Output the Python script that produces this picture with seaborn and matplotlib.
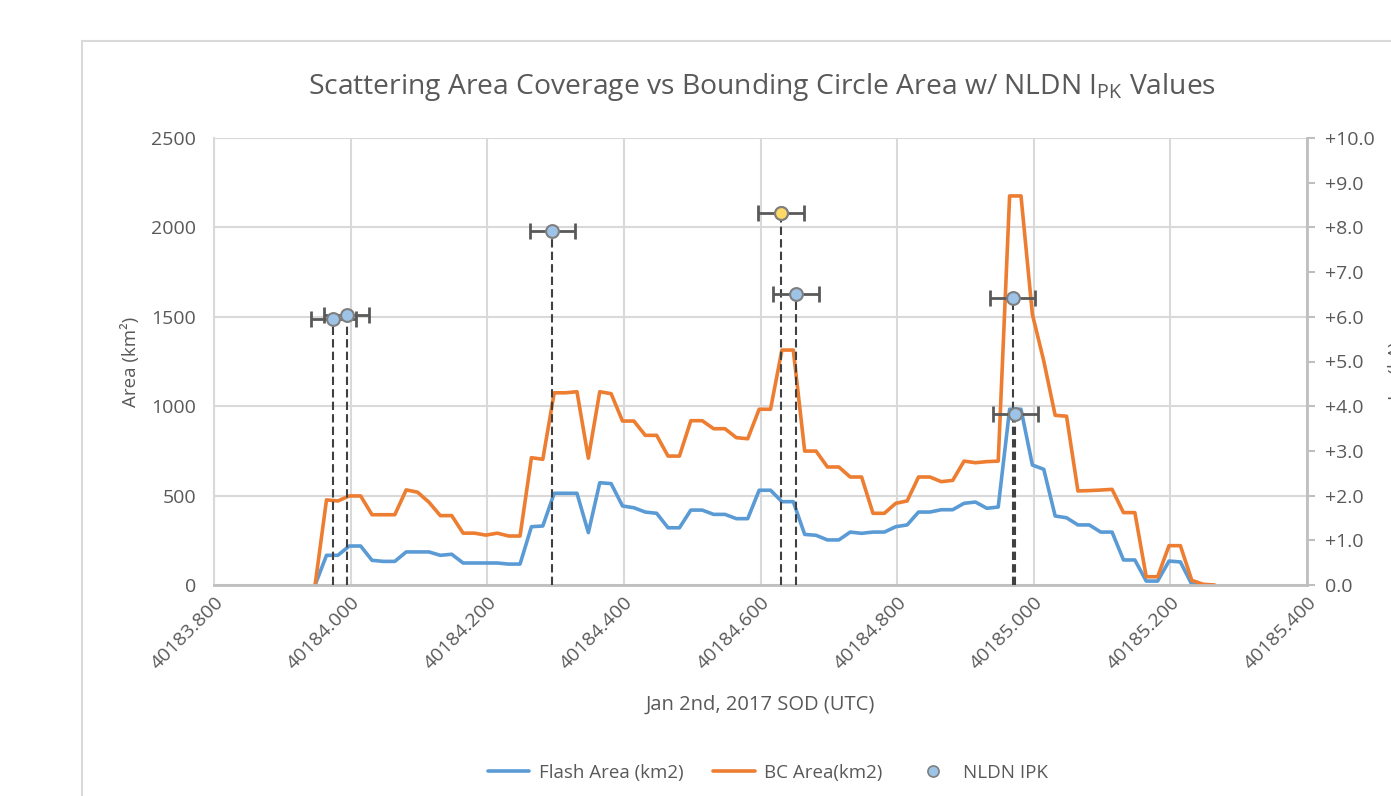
import numpy as np
import pandas as pd
import seaborn as sns
import matplotlib
matplotlib.use('Agg')
import matplotlib.pyplot as plt
from matplotlib.ticker import MultipleLocator, FormatStrFormatter, FuncFormatter
from matplotlib.lines import Line2D
from matplotlib.patches import Rectangle

# samples every 1/60 s starting at 40183.948 SOD
sod_start = 40183.948
n_samples = 80
sod = sod_start + np.arange(n_samples) / 60.0

flash_area = [0, 166, 166, 218, 218, 138, 132, 132, 185, 185,
              185, 166, 172, 123, 123, 123, 123, 117, 117, 326,
              330, 513, 513, 513, 293, 572, 567, 442, 432, 408,
              401, 320, 320, 419, 419, 395, 395, 371, 371, 530,
              530, 466, 466, 283, 278, 252, 252, 296, 289, 296,
              296, 326, 336, 408, 408, 421, 421, 457, 464, 429,
              436, 983, 983, 671, 647, 386, 376, 336, 336, 296,
              296, 140, 140, 22, 22, 134, 129, 4, 0, np.nan]

bc_area = [0, 476, 470, 498, 498, 393, 393, 393, 532, 519,
           463, 388, 388, 290, 290, 279, 290, 274, 274, 712,
           703, 1075, 1075, 1081, 709, 1081, 1070, 917, 917, 837,
           837, 721, 721, 919, 919, 874, 874, 824, 818, 983,
           983, 1314, 1314, 749, 749, 660, 660, 604, 604, 401,
           401, 457, 470, 604, 604, 578, 585, 693, 684, 690,
           693, 2176, 2176, 1514, 1253, 949, 944, 526, 528, 531,
           535, 405, 405, 46, 46, 220, 220, 26, 4, 0]

# NLDN peak current events (right axis)
ipk_sod = [40183.9745, 40183.994, 40184.295, 40184.630, 40184.652, 40184.969, 40184.973]
ipk_ka = [5.94, 6.04, 7.92, 8.33, 6.51, 6.41, 3.83]
ipk_err = 0.033
highlight = 3

blue = '#5B9BD5'
orange = '#ED7D31'
grid_c = '#d9d9d9'
txt_c = '#595959'

sns.set_style('white')
plt.rcParams['font.family'] = ['Open Sans', 'DejaVu Sans']

df = pd.DataFrame({'sod': sod, 'flash': flash_area, 'bc': bc_area})

fig = plt.figure(figsize=(13.91, 7.96), dpi=100)
ax = fig.add_axes([214/1391, 1-585/796, 1093/1391, 447/796])
ax2 = ax.twinx()

sns.lineplot(data=df, x='sod', y='flash', ax=ax, color=blue, lw=2.6, legend=False)
sns.lineplot(data=df, x='sod', y='bc', ax=ax, color=orange, lw=2.6, legend=False)

ax.set_xlim(40183.8, 40185.4)
ax.set_ylim(0, 2500)
ax.xaxis.set_major_locator(MultipleLocator(0.2))
ax.xaxis.set_minor_locator(MultipleLocator(0.04))
ax.xaxis.set_major_formatter(FormatStrFormatter('%.3f'))
ax.yaxis.set_major_locator(MultipleLocator(500))
ax.grid(True, which='major', color=grid_c, lw=1.5)
ax.set_axisbelow(True)
for s in ['top', 'right']:
    ax.spines[s].set_visible(False)
ax.spines['left'].set_color(grid_c)
ax.spines['left'].set_linewidth(1.5)
ax.spines['bottom'].set_color('#bfbfbf')
ax.spines['bottom'].set_linewidth(2)
ax.tick_params(axis='y', length=0, labelsize=14, labelcolor=txt_c, pad=13)
ax.tick_params(axis='x', which='major', length=0, labelsize=14, labelcolor=txt_c, pad=6, labelrotation=45)
ax.tick_params(axis='x', which='minor', direction='in', length=6, color='#bfbfbf', width=1.5)
plt.setp(ax.get_xticklabels(), ha='right', rotation_mode='anchor')

ax.set_ylabel('Area (km²)', fontsize=13.5, color=txt_c)
ax.yaxis.set_label_coords(-0.068, 0.5)
ax.set_xlabel('Jan 2nd, 2017 SOD (UTC)', fontsize=14.5, color=txt_c)
ax.xaxis.set_label_coords(0.5, -0.245)

# right axis: peak current
ax2.vlines(ipk_sod, 0, ipk_ka, colors='#404040', linestyles=(0, (4, 2)), lw=1.5, zorder=2)
ax2.errorbar(ipk_sod, ipk_ka, xerr=ipk_err, fmt='none', ecolor=txt_c, elinewidth=2,
             capsize=6, capthick=2, zorder=3)
sns.scatterplot(x=ipk_sod, y=ipk_ka, ax=ax2, s=85, color='#9DC3E6', edgecolor='#7f7f7f',
                linewidth=1.5, zorder=4, legend=False)
sns.scatterplot(x=[ipk_sod[highlight]], y=[ipk_ka[highlight]], ax=ax2, s=85, color='#FFD966',
                edgecolor='#7f7f7f', linewidth=1.5, zorder=5, legend=False)
ax2.set_ylim(0, 10)
ax2.yaxis.set_major_locator(MultipleLocator(1))
ax2.yaxis.set_major_formatter(FuncFormatter(lambda v, _: '0.0' if v == 0 else f'+{v:.1f}'))
for s in ['top', 'left', 'bottom']:
    ax2.spines[s].set_visible(False)
ax2.spines['right'].set_color('#bfbfbf')
ax2.spines['right'].set_linewidth(2)
ax2.tick_params(axis='y', length=6, width=1.5, color='#bfbfbf', labelsize=14, labelcolor=txt_c, pad=7)
ax2.set_ylabel(r'$\mathregular{I_{PK}}$ (kA)', fontsize=13.5, color=txt_c)
ax2.yaxis.set_label_coords(1.0725, 0.48)

fig.text(762/1391, 1-87/796, r'Scattering Area Coverage vs Bounding Circle Area w/ NLDN $\mathregular{I_{PK}}$ Values',
         ha='center', va='center', fontsize=20.3, color=txt_c)

handles = [Line2D([], [], color=blue, lw=2.6),
           Line2D([], [], color=orange, lw=2.6),
           Line2D([], [], ls='none', marker='o', ms=8, mfc='#9DC3E6', mec='#7f7f7f', mew=1.2)]
labels = ['Flash Area (km2)', 'BC Area(km2)', 'NLDN IPK']
fig.legend(handles, labels, loc='center', bbox_to_anchor=(768/1391, 1-773/796), ncol=3,
           frameon=False, fontsize=13.5, labelcolor=txt_c,
           handlelength=2.2, columnspacing=1.6, handletextpad=0.5)

fig.patches.append(Rectangle((82/1391, -0.1), 1.2, 1.1-41/796, transform=fig.transFigure,
                             fill=False, ec=grid_c, lw=1.5))

fig.savefig('out.png', dpi=100)
